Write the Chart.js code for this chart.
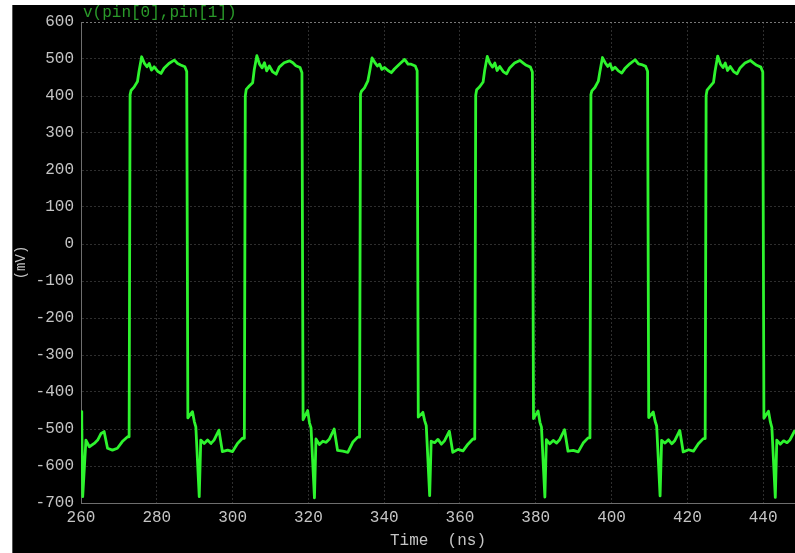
<!DOCTYPE html>
<html>
<head>
<meta charset="utf-8">
<title>v(pin[0],pin[1])</title>
<script src="https://cdn.jsdelivr.net/npm/chart.js@4/dist/chart.umd.min.js"></script>
<style>
    html, body { margin: 0; padding: 0; background: #fff; }
    #scope {
        position: absolute;
        left: 12px;
        top: 5px;
        width: 783px;
        height: 548px;
        background: #000;
        border-left: 1px solid #555;
        box-sizing: border-box;
    }
    #scope canvas { display: block; }
</style>
</head>
<body>
<div id="scope"><canvas id="wave"></canvas></div>
<script>
// Transient trace v(pin[0],pin[1])

const signalName = 'v(pin[0],pin[1])';
const xTitle = 'Time  (ns)';
const yTitle = '(mV)';

const xTicks = [260, 280, 300, 320, 340, 360, 380, 400, 420, 440];
const yTicks = [-700, -600, -500, -400, -300, -200, -100, 0, 100, 200, 300, 400, 500, 600];

// sample times (ns), one row per cycle
const timeNs = [
    260.0, 260.2, 260.45, 261.3, 262.2, 263.5, 264.4, 265.3, 266.1, 267.0, 268.3, 269.6, 270.9, 272.3,
    272.7, 272.95, 273.2, 274.0, 274.9, 275.3, 276.0, 276.7, 277.4, 278.0, 278.6, 279.3, 280.2, 281.1, 281.9, 283.2, 284.6, 285.5, 286.3, 287.4, 287.9,
    288.2, 289.4, 289.9, 290.3, 291.2, 291.6, 292.5, 293.4, 294.3, 295.1, 296.4, 297.3, 298.7, 300.0, 301.3, 302.6,
    303.1, 303.35, 303.6, 304.4, 305.3, 305.7, 306.4, 307.1, 307.8, 308.4, 309.0, 309.7, 310.6, 311.5, 312.3, 313.6, 315.0, 315.9, 316.7, 317.8, 318.3,
    318.6, 319.8, 320.3, 320.7, 321.6, 322.0, 322.9, 323.8, 324.7, 325.5, 326.8, 327.7, 329.1, 330.4, 331.7, 333.0,
    333.5, 333.75, 334.0, 334.8, 335.7, 336.1, 336.8, 337.5, 338.2, 338.8, 339.4, 340.1, 341.0, 341.9, 342.7, 344.0, 345.4, 346.3, 347.1, 348.2, 348.7,
    349.0, 350.2, 350.7, 351.1, 352.0, 352.4, 353.3, 354.2, 355.1, 355.9, 357.2, 358.1, 359.5, 360.8, 362.1, 363.4,
    363.9, 364.15, 364.4, 365.2, 366.1, 366.5, 367.2, 367.9, 368.6, 369.2, 369.8, 370.5, 371.4, 372.3, 373.1, 374.4, 375.8, 376.7, 377.5, 378.6, 379.1,
    379.4, 380.6, 381.1, 381.5, 382.4, 382.8, 383.7, 384.6, 385.5, 386.3, 387.6, 388.5, 389.9, 391.2, 392.5, 393.8,
    394.3, 394.55, 394.8, 395.6, 396.5, 396.9, 397.6, 398.3, 399.0, 399.6, 400.2, 400.9, 401.8, 402.7, 403.5, 404.8, 406.2, 407.1, 407.9, 409.0, 409.5,
    409.8, 411.0, 411.5, 411.9, 412.8, 413.2, 414.1, 415.0, 415.9, 416.7, 418.0, 418.9, 420.3, 421.6, 422.9, 424.2,
    424.7, 424.95, 425.2, 426.0, 426.9, 427.3, 428.0, 428.7, 429.4, 430.0, 430.6, 431.3, 432.2, 433.1, 433.9, 435.2, 436.6, 437.5, 438.3, 439.4, 439.9,
    440.2, 441.4, 441.9, 442.3, 443.2, 443.6, 444.5, 445.4, 446.3, 447.1, 448.4
];

// voltage (mV), same rows as timeNs
const voltageMv = [
    -453, -480, -683, -530, -548, -539, -530, -512, -507, -552, -557, -552, -534, -521,
    -521, 403, 415, 424, 439, 466, 506, 489, 479, 488, 470, 479, 467, 461, 475, 488, 497, 488, 484, 479, 466,
    -470, -453, -480, -494, -683, -530, -539, -530, -539, -530, -503, -561, -557, -561, -539, -525,
    -525, 400, 418, 427, 436, 470, 509, 486, 476, 490, 468, 481, 465, 459, 478, 490, 495, 490, 482, 477, 463,
    -475, -450, -484, -497, -686, -527, -542, -533, -536, -528, -500, -558, -560, -563, -536, -522,
    -522, 405, 413, 422, 441, 463, 503, 491, 481, 486, 472, 477, 469, 463, 473, 486, 499, 486, 486, 481, 468,
    -468, -455, -478, -491, -680, -533, -537, -528, -541, -532, -506, -563, -555, -559, -541, -527,
    -527, 402, 417, 425, 438, 468, 507, 488, 478, 489, 469, 480, 466, 460, 476, 489, 496, 489, 483, 478, 465,
    -472, -451, -482, -495, -684, -529, -540, -531, -538, -529, -502, -560, -558, -562, -538, -524,
    -524, 404, 414, 423, 440, 465, 504, 490, 480, 487, 471, 478, 468, 462, 474, 487, 498, 487, 485, 480, 467,
    -469, -454, -479, -492, -681, -531, -538, -529, -540, -531, -504, -562, -556, -560, -540, -526,
    -526, 401, 416, 426, 437, 467, 508, 487, 477, 489, 469, 480, 466, 460, 476, 489, 496, 489, 483, 478, 465,
    -471, -452, -481, -496, -685, -530, -541, -532, -537, -529, -503
];

const MONO = '"Liberation Mono", "DejaVu Sans Mono", monospace';
const LABEL_GRAY = '#c4c4c4';

// signal name in the top-left corner, above the plot
const signalLabel = {
    id: 'signalLabel',
    afterDraw(chart) {
        const ctx = chart.ctx;
        ctx.save();
        ctx.font = '16px ' + MONO;
        ctx.fillStyle = '#2a9a2a';
        ctx.textAlign = 'left';
        ctx.textBaseline = 'middle';
        ctx.fillText(signalName, chart.chartArea.left + 2, chart.chartArea.top - 9);
        ctx.restore();
    }
};

function initChart() {
    const ctx = document.getElementById('wave').getContext('2d');
    return new Chart(ctx, {
        type: 'line',
        data: {
            datasets: [{
                label: signalName,
                data: timeNs.map((t, i) => ({ x: t, y: voltageMv[i] })),
                borderColor: '#2ef42e',
                borderWidth: 2.8,
                borderJoinStyle: 'round',
                tension: 0,
                pointRadius: 0,
                fill: false
            }]
        },
        options: {
            responsive: true,
            maintainAspectRatio: false,
            animation: false,
            layout: { padding: { top: 17, right: 0, bottom: 0, left: 0 } },
            scales: {
                x: {
                    type: 'linear',
                    min: 260,
                    max: 448.4,
                    afterBuildTicks: scale => { scale.ticks = xTicks.map(v => ({ value: v })); },
                    afterFit: scale => { scale.height = 50; },
                    grid: { color: '#2e2e2e', drawTicks: false },
                    border: { color: '#6e6e6e', dash: [2, 2] },
                    ticks: {
                        color: LABEL_GRAY,
                        font: { family: MONO, size: 16 },
                        padding: 5,
                        maxRotation: 0
                    },
                    title: {
                        display: true,
                        text: xTitle,
                        color: LABEL_GRAY,
                        font: { family: MONO, size: 16 },
                        padding: { top: 0, bottom: 3 }
                    }
                },
                y: {
                    min: -700,
                    max: 600,
                    afterBuildTicks: scale => { scale.ticks = yTicks.map(v => ({ value: v })); },
                    afterFit: scale => { scale.width = 68; },
                    grid: {
                        color: c => (c.tick && c.tick.value === 600) ? '#777' : '#2e2e2e',
                        drawTicks: false
                    },
                    border: { color: '#6e6e6e', dash: [2, 2] },
                    ticks: {
                        color: LABEL_GRAY,
                        font: { family: MONO, size: 16 },
                        padding: 7
                    },
                    title: {
                        display: true,
                        text: yTitle,
                        color: LABEL_GRAY,
                        font: { family: MONO, size: 14 },
                        padding: 0
                    }
                }
            },
            plugins: {
                legend: { display: false },
                tooltip: { enabled: false }
            }
        },
        plugins: [signalLabel]
    });
}

document.addEventListener('DOMContentLoaded', () => {
    initChart();
});
</script>
</body>
</html>
